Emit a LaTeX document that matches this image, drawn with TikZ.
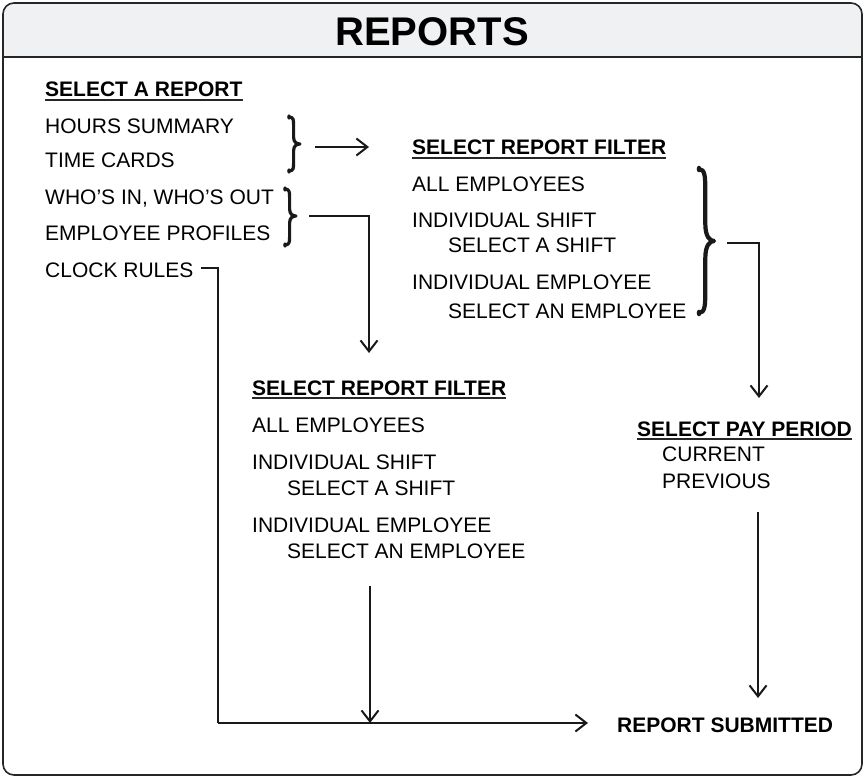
\documentclass[tikz,border=0pt]{standalone}
\usepackage{fontspec}
\setmainfont{Liberation Sans}
\usetikzlibrary{arrows.meta}
\definecolor{hdrgray}{RGB}{240,241,242}
% #1 x left, #2 y top, #3 y bottom, #4 width, #5 y tip, #6 line width
\newcommand\mybrace[6]{%
  \pgfmathsetmacro\bxs{#1+0.42*#4}%
  \pgfmathsetmacro\bxt{#1+#4}%
  \pgfmathsetmacro\bxm{#1+0.72*#4}%
  \pgfmathsetmacro\bha{#2+0.06*(#3-#2)}%
  \pgfmathsetmacro\bhb{#2+0.16*(#3-#2)}%
  \pgfmathsetmacro\bta{#5-0.12*(#3-#2)}%
  \pgfmathsetmacro\btb{#5-0.03*(#3-#2)}%
  \pgfmathsetmacro\btc{#5+0.03*(#3-#2)}%
  \pgfmathsetmacro\btd{#5+0.12*(#3-#2)}%
  \pgfmathsetmacro\bbb{#3-0.16*(#3-#2)}%
  \pgfmathsetmacro\bba{#3-0.06*(#3-#2)}%
  \draw[line width=#6,line join=round,black!90]
    (#1,#2) .. controls (\bxs,#2) and (\bxs,\bha) .. (\bxs,\bhb)
    -- (\bxs,\bta) .. controls (\bxs,\btb) and (\bxm,#5) .. (\bxt,#5)
    .. controls (\bxm,#5) and (\bxs,\btc) .. (\bxs,\btd)
    -- (\bxs,\bbb) .. controls (\bxs,\bba) and (\bxs,#3) .. (#1,#3);
  \fill[black!90] (#1,#2) ellipse[x radius=0.55*#6,y radius=0.8*#6];
  \fill[black!90] (#1,#3) ellipse[x radius=0.55*#6,y radius=0.8*#6];
}
\begin{document}
\begin{tikzpicture}[x=1pt,y=-1pt,
  txt/.style={anchor=base west,inner sep=0pt,font=\fontsize{21}{25}\selectfont},
  bld/.style={anchor=base west,inner sep=0pt,font=\fontsize{21}{25}\selectfont\bfseries},
  uline/.style={line width=1.5pt,draw=black!85},
  conn/.style={line width=2pt,draw=black!90},
  arr/.style={conn,-{Straight Barb[length=11pt,width=17pt,line width=2pt]}}]
\useasboundingbox (0,0) rectangle (865,778);
% frame
\begin{scope}
\clip[rounded corners=11pt] (3,3) rectangle (862,775);
\fill[hdrgray] (0,0) rectangle (865,57);
\end{scope}
\draw[line width=2pt,black!85] (3,57) -- (862,57);
\draw[line width=1.6pt,black!85,rounded corners=11pt] (3,3) rectangle (862,775);
\node[inner sep=0pt,anchor=base,font=\fontsize{40}{44}\selectfont\bfseries] (title) at (432,46) {REPORTS};
% left list
\node[bld] (selrep) at (45,97) {SELECT A REPORT};
\draw[uline] ([yshift=-3pt]selrep.base west) -- ([yshift=-3pt]selrep.base east);
\node[txt] (hours) at (45,134) {HOURS SUMMARY};
\node[txt] (cards) at (45,168) {TIME CARDS};
\node[txt] (whos) at (45,205) {WHO’S IN, WHO’S OUT};
\node[txt] (prof) at (45,241) {EMPLOYEE PROFILES};
\node[txt] (clock) at (45,277) {CLOCK RULES};
% braces
\mybrace{289}{117}{171}{11}{144}{3.2}
\mybrace{285}{189}{245}{11}{216}{3.2}
\coordinate (b1) at (315,147);
\coordinate (b1e) at (369,147);
\coordinate (b2) at (309,216);
\coordinate (b2e) at (369,353);
\draw[arr] (b1) -- (b1e);
\draw[arr] (b2) -| (b2e);
% upper filter
\node[bld] (uf) at (412,155) {SELECT REPORT FILTER};
\draw[uline] ([yshift=-3pt]uf.base west) -- ([yshift=-3pt]uf.base east);
\node[txt] (uall) at (412,192) {ALL EMPLOYEES};
\node[txt] (ushift) at (412,228) {INDIVIDUAL SHIFT};
\node[txt] (uselshift) at (448,253) {SELECT A SHIFT};
\node[txt] (uemp) at (412,289) {INDIVIDUAL EMPLOYEE};
\node[txt] (uselemp) at (448,318) {SELECT AN EMPLOYEE};
\mybrace{699}{169}{313}{15}{241}{4.2}
\coordinate (b3) at (727,243);
\coordinate (b3e) at (759,398);
\draw[arr] (b3) -| (b3e);
% pay period
\node[bld] (pay) at (637,436) {SELECT PAY PERIOD};
\draw[uline] ([yshift=-3pt]pay.base west) -- ([yshift=-3pt]pay.base east);
\node[txt] (cur) at (662,461) {CURRENT};
\node[txt] (prev) at (662,488) {PREVIOUS};
% lower filter
\node[bld] (lf) at (252,395) {SELECT REPORT FILTER};
\draw[uline] ([yshift=-3pt]lf.base west) -- ([yshift=-3pt]lf.base east);
\node[txt] (lall) at (252,432) {ALL EMPLOYEES};
\node[txt] (lshift) at (252,469) {INDIVIDUAL SHIFT};
\node[txt] (lselshift) at (287,495) {SELECT A SHIFT};
\node[txt] (lemp) at (252,532) {INDIVIDUAL EMPLOYEE};
\node[txt] (lselemp) at (287,558) {SELECT AN EMPLOYEE};
% submitted
\node[bld] (sub) at (617,732) {REPORT SUBMITTED};
\coordinate (c1) at (201,268);
\coordinate (c2) at (218,723);
\coordinate (c3) at (588,723);
\draw[conn] (c1) -| (c2);
\draw[arr] (c2) -- (c3);
\coordinate (l1) at (370,586);
\coordinate (l2) at (370,723);
\draw[arr] (l1) -- (l2);
\coordinate (p1) at (758,512);
\coordinate (p2) at (758,698);
\draw[arr] (p1) -- (p2);
\end{tikzpicture}
\end{document}
